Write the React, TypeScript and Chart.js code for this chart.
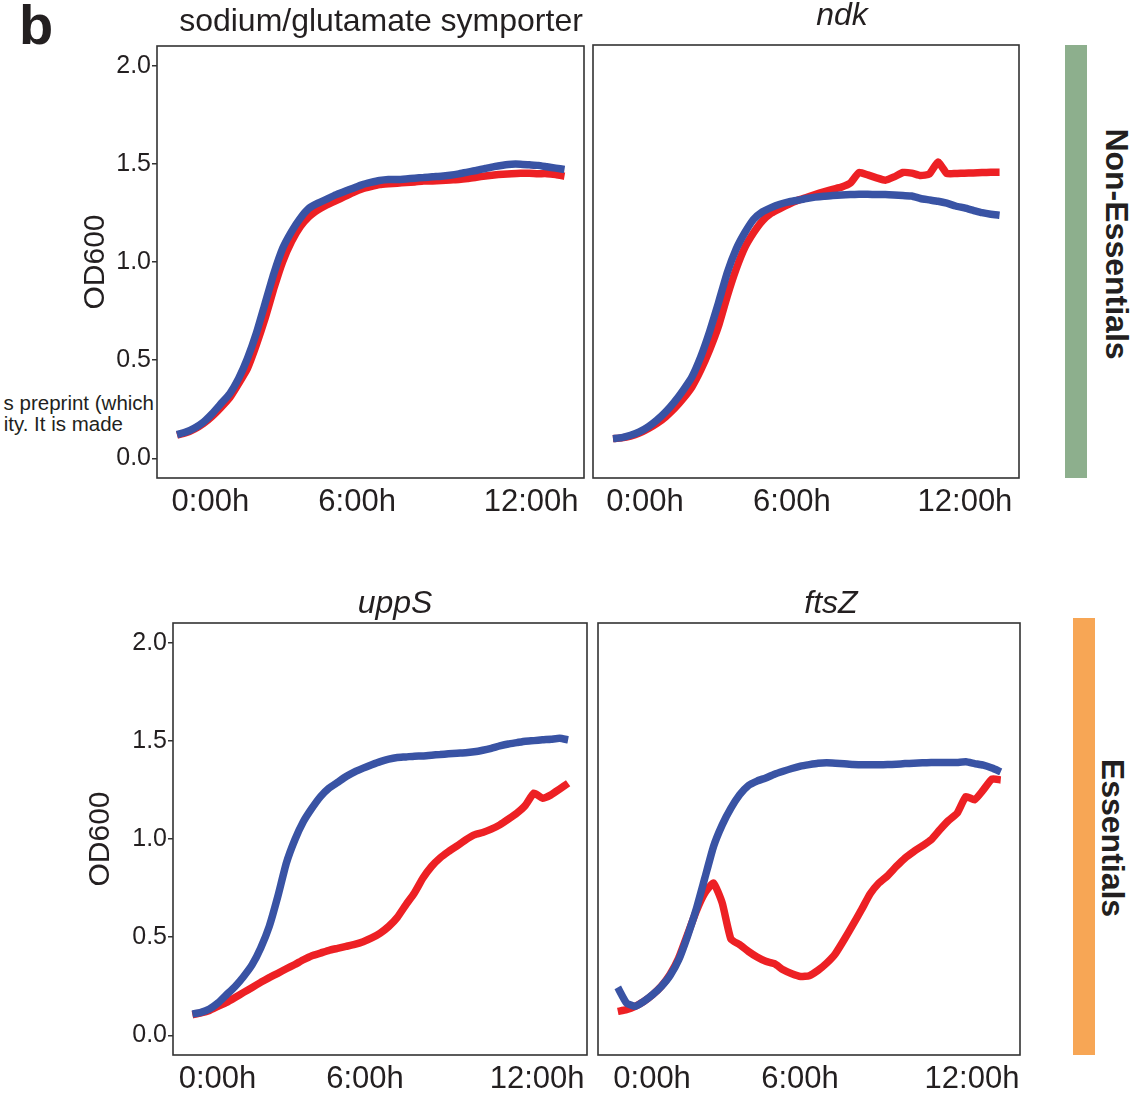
import React, { useEffect, useRef } from "react";
import { Chart, registerables } from "chart.js";

Chart.register(...registerables);

const FONT = "'Liberation Sans', Arial, Helvetica, sans-serif";
const INK = "#231f20";
const BLUE = "#3953a4";
const RED = "#ed2024";
const FRAME = "#333333";

// sampling times (hours), one read every ~20 min
const TIMES = [
  -1.25, -0.92, -0.59, -0.26, 0.07, 0.4, 0.73, 1.06, 1.39, 1.72, 2.05, 2.38, 2.71, 3.04, 3.37,
  3.7, 4.03, 4.36, 4.69, 5.02, 5.35, 5.68, 6.01, 6.34, 6.67, 7.0, 7.33, 7.66, 7.99, 8.32, 8.65,
  8.98, 9.31, 9.64, 9.97, 10.3, 10.63, 10.96, 11.29, 11.62, 11.95, 12.28, 12.61, 12.94, 13.27,
];

const X_TICK_LABELS = ["0:00h", "6:00h", "12:00h"];
// where each panel's time labels sit on its time axis
const X_TICKS_SODIUM = [0, 5.5, 12.02];
const X_TICKS_NDK = [-0.05, 5.47, 11.97];
const X_TICKS_UPPS = [-0.28, 5.42, 12.07];
const X_TICKS_FTSZ = [0.05, 5.66, 12.18];
const Y_TICK_VALUES = [0, 0.5, 1.0, 1.5, 2.0];

const SODIUM_BLUE = [
  0.121, 0.134, 0.155, 0.185, 0.228, 0.279, 0.33, 0.407, 0.509, 0.636, 0.789, 0.942, 1.07, 1.155,
  1.223, 1.274, 1.3, 1.32, 1.342, 1.359, 1.376, 1.393, 1.405, 1.415, 1.42, 1.42, 1.423, 1.427,
  1.43, 1.434, 1.437, 1.442, 1.449, 1.458, 1.466, 1.476, 1.486, 1.493, 1.498, 1.498, 1.495, 1.492,
  1.485, 1.478, 1.471,
];
const SODIUM_RED = [
  0.118, 0.13, 0.15, 0.178, 0.215, 0.26, 0.31, 0.381, 0.458, 0.577, 0.713, 0.866, 1.002, 1.104,
  1.18, 1.231, 1.265, 1.291, 1.311, 1.333, 1.354, 1.372, 1.384, 1.394, 1.398, 1.401, 1.405, 1.408,
  1.412, 1.413, 1.415, 1.418, 1.42, 1.425, 1.432, 1.438, 1.443, 1.447, 1.45, 1.452, 1.452, 1.45,
  1.45, 1.445, 1.437,
];
const NDK_BLUE = [
  0.1, 0.105, 0.117, 0.134, 0.16, 0.194, 0.236, 0.287, 0.347, 0.415, 0.517, 0.644, 0.789, 0.942,
  1.061, 1.146, 1.214, 1.252, 1.274, 1.291, 1.303, 1.311, 1.32, 1.327, 1.332, 1.335, 1.338, 1.34,
  1.342, 1.342, 1.34, 1.34, 1.338, 1.335, 1.333, 1.32, 1.313, 1.306, 1.296, 1.282, 1.272, 1.26,
  1.248, 1.24, 1.235,
];
const NDK_RED = [
  0.1, 0.104, 0.113, 0.128, 0.15, 0.177, 0.211, 0.253, 0.304, 0.364, 0.449, 0.551, 0.67, 0.823,
  0.959, 1.07, 1.146, 1.206, 1.245, 1.269, 1.291, 1.31, 1.325, 1.34, 1.354, 1.367, 1.378, 1.398,
  1.452, 1.44, 1.425, 1.413, 1.43, 1.452, 1.449, 1.437, 1.444, 1.505, 1.447, 1.447, 1.449, 1.45,
  1.452, 1.454, 1.454,
];
const UPPS_BLUE = [
  0.109, 0.117, 0.134, 0.165, 0.207, 0.249, 0.3, 0.36, 0.445, 0.555, 0.707, 0.877, 0.996, 1.089,
  1.157, 1.216, 1.259, 1.288, 1.318, 1.342, 1.361, 1.378, 1.394, 1.407, 1.415, 1.418, 1.422,
  1.423, 1.427, 1.43, 1.434, 1.437, 1.439, 1.444, 1.452, 1.462, 1.474, 1.484, 1.491, 1.498, 1.501,
  1.505, 1.508, 1.513, 1.505,
];
const UPPS_RED = [
  0.105, 0.114, 0.127, 0.148, 0.168, 0.193, 0.219, 0.244, 0.27, 0.294, 0.316, 0.339, 0.361, 0.385,
  0.406, 0.419, 0.433, 0.443, 0.453, 0.463, 0.477, 0.496, 0.521, 0.555, 0.601, 0.665, 0.725,
  0.801, 0.86, 0.903, 0.936, 0.965, 0.996, 1.021, 1.033, 1.05, 1.072, 1.101, 1.132, 1.172, 1.234,
  1.208, 1.225, 1.254, 1.284,
];
const FTSZ_BLUE = [
  0.244, 0.165, 0.148, 0.173, 0.207, 0.249, 0.304, 0.385, 0.504, 0.64, 0.801, 0.962, 1.072, 1.157,
  1.225, 1.272, 1.295, 1.311, 1.33, 1.345, 1.359, 1.371, 1.379, 1.386, 1.388, 1.386, 1.383, 1.379,
  1.378, 1.378, 1.378, 1.379, 1.381, 1.384, 1.386, 1.388, 1.389, 1.389, 1.389, 1.39, 1.393, 1.384,
  1.376, 1.361, 1.342,
];
const FTSZ_RED = [
  0.122, 0.131, 0.148, 0.173, 0.207, 0.25, 0.31, 0.394, 0.512, 0.631, 0.725, 0.776, 0.674, 0.49,
  0.462, 0.428, 0.399, 0.377, 0.365, 0.334, 0.314, 0.3, 0.304, 0.331, 0.368, 0.416, 0.487, 0.563,
  0.64, 0.721, 0.776, 0.813, 0.86, 0.903, 0.936, 0.965, 0.996, 1.047, 1.094, 1.132, 1.216, 1.2,
  1.25, 1.305, 1.301,
];

type Rect = { left: number; top: number; right: number; bottom: number };

const framePlugin = {
  id: "frame",
  afterDraw(chart: any) {
    const { ctx, chartArea } = chart;
    const { left, top, right, bottom } = chartArea;
    ctx.save();
    ctx.strokeStyle = FRAME;
    ctx.lineWidth = 1.6;
    ctx.strokeRect(left, top, right - left, bottom - top);
    ctx.restore();
  },
};

function Panel(props: {
  blue: number[];
  red: number[];
  xTicks: number[];
  showY: boolean;
  canvas: Rect;
  area: Rect;
}) {
  const ref = useRef<HTMLCanvasElement | null>(null);
  const { blue, red, xTicks, showY, canvas, area } = props;
  const width = canvas.right - canvas.left;
  const height = canvas.bottom - canvas.top;

  useEffect(() => {
    if (!ref.current) return;
    const yWidth = area.left - canvas.left;
    const xHeight = canvas.bottom - area.bottom;
    const padTop = area.top - canvas.top;
    const padRight = canvas.right - area.right;
    const line = (vals: number[], color: string) => ({
      data: TIMES.map((t, i) => ({ x: t, y: vals[i] })),
      borderColor: color,
      backgroundColor: color,
      borderWidth: 7.5,
      pointRadius: 0,
      tension: 0.15,
      borderJoinStyle: "round" as const,
      borderCapStyle: "butt" as const,
      fill: false,
    });
    const chart = new Chart(ref.current, {
      type: "line",
      data: { datasets: [line(blue, BLUE), line(red, RED)] },
      options: {
        animation: false,
        responsive: false,
        devicePixelRatio: 1,
        layout: { padding: { top: padTop, right: padRight, left: 0, bottom: 0 } },
        plugins: { legend: { display: false }, tooltip: { enabled: false }, title: { display: false } },
        scales: {
          x: {
            type: "linear",
            min: -2,
            max: 14,
            afterBuildTicks: (s: any) => {
              s.ticks = xTicks.map((v) => ({ value: v }));
            },
            afterFit: (s: any) => {
              s.height = xHeight;
            },
            ticks: {
              autoSkip: false,
              maxRotation: 0,
              minRotation: 0,
              padding: -2,
              color: INK,
              font: { family: FONT, size: 31 },
              callback: (_v: any, i: number) => X_TICK_LABELS[i],
            },
            grid: { display: false },
            border: { display: false },
          },
          y: {
            type: "linear",
            min: -0.1,
            max: 2.1,
            afterBuildTicks: (s: any) => {
              s.ticks = Y_TICK_VALUES.map((v) => ({ value: v }));
            },
            afterFit: (s: any) => {
              s.width = yWidth;
            },
            ticks: {
              display: showY,
              padding: 1,
              color: INK,
              font: { family: FONT, size: 25 },
              callback: (v: any) => Number(v).toFixed(1),
            },
            grid: {
              display: showY,
              drawOnChartArea: false,
              drawTicks: true,
              tickLength: 5,
              color: FRAME,
              lineWidth: 1.5,
            },
            border: { display: false },
            title: {
              display: showY,
              text: "OD600",
              color: INK,
              font: { family: FONT, size: 30 },
              padding: { top: 0, bottom: 0 },
            },
          },
        },
      },
      plugins: [framePlugin],
    } as any);
    return () => chart.destroy();
  }, []);

  return (
    <canvas
      ref={ref}
      width={width}
      height={height}
      style={{ position: "absolute", left: canvas.left, top: canvas.top, width, height }}
    />
  );
}

function Text(props: {
  text: string;
  x: number;
  baseline: number;
  size: number;
  bold?: boolean;
  italic?: boolean;
  align?: "left" | "center" | "right";
}) {
  const { text, x, baseline, size, bold, italic, align } = props;
  const transform =
    align === "center" ? "translateX(-50%)" : align === "right" ? "translateX(-100%)" : undefined;
  return (
    <div
      style={{
        position: "absolute",
        left: x,
        top: baseline - 0.8465 * size,
        transform,
        fontFamily: FONT,
        fontSize: size,
        lineHeight: 1,
        fontWeight: bold ? 700 : 400,
        fontStyle: italic ? "italic" : "normal",
        color: INK,
        whiteSpace: "nowrap",
      }}
    >
      {text}
    </div>
  );
}

function SideLabel(props: { text: string; cx: number; cy: number }) {
  return (
    <div
      style={{
        position: "absolute",
        left: props.cx,
        top: props.cy,
        transform: "translate(-50%, -50%) rotate(90deg)",
        fontFamily: FONT,
        fontSize: 32,
        fontWeight: 700,
        lineHeight: 1,
        color: INK,
        whiteSpace: "nowrap",
      }}
    >
      {props.text}
    </div>
  );
}

export default function App() {
  return (
    <div
      style={{
        position: "absolute",
        left: 0,
        top: 0,
        width: 1137,
        height: 1096,
        background: "#ffffff",
        overflow: "hidden",
      }}
    >
      <Text text="s preprint (which" x={154} baseline={410} size={20.5} align="right" />
      <Text text="ity. It is made" x={123} baseline={431} size={20.5} align="right" />

      <Panel
        blue={SODIUM_BLUE}
        red={SODIUM_RED}
        xTicks={X_TICKS_SODIUM}
        showY={true}
        canvas={{ left: 78, top: 28, right: 594, bottom: 530 }}
        area={{ left: 157, top: 46, right: 584, bottom: 478 }}
      />
      <Panel
        blue={NDK_BLUE}
        red={NDK_RED}
        xTicks={X_TICKS_NDK}
        showY={false}
        canvas={{ left: 588, top: 35, right: 1029, bottom: 530 }}
        area={{ left: 593, top: 45, right: 1019, bottom: 478 }}
      />
      <Panel
        blue={UPPS_BLUE}
        red={UPPS_RED}
        xTicks={X_TICKS_UPPS}
        showY={true}
        canvas={{ left: 83, top: 605, right: 592, bottom: 1096 }}
        area={{ left: 173, top: 623, right: 587, bottom: 1055 }}
      />
      <Panel
        blue={FTSZ_BLUE}
        red={FTSZ_RED}
        xTicks={X_TICKS_FTSZ}
        showY={false}
        canvas={{ left: 593, top: 613, right: 1030, bottom: 1096 }}
        area={{ left: 598, top: 623, right: 1020, bottom: 1055 }}
      />

      <Text text="b" x={19} baseline={44} size={56} bold />
      <Text text="sodium/glutamate symporter" x={381} baseline={31} size={32} align="center" />
      <Text text="ndk" x={842} baseline={25} size={32} italic align="center" />
      <Text text="uppS" x={395} baseline={613} size={32} italic align="center" />
      <Text text="ftsZ" x={831} baseline={613} size={32} italic align="center" />

      <div style={{ position: "absolute", left: 1065, top: 45, width: 22, height: 433, background: "#8daf8d" }} />
      <div style={{ position: "absolute", left: 1073, top: 618, width: 22, height: 437, background: "#f7a655" }} />
      <SideLabel text="Non-Essentials" cx={1117} cy={244} />
      <SideLabel text="Essentials" cx={1113} cy={838} />
    </div>
  );
}
